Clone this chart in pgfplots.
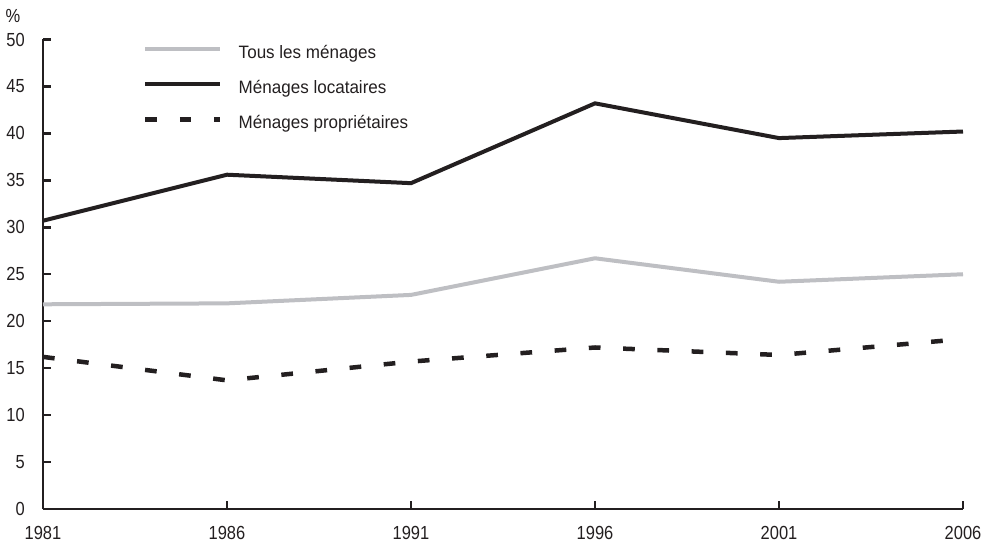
\documentclass[border=0pt]{standalone}
\usepackage{pgfplots}
\pgfplotsset{compat=1.18}
\usepackage{fontspec}
\setmainfont{Liberation Sans}[FakeStretch=0.87]
\newfontfamily\legfont{Liberation Sans}[FakeStretch=0.95]
\definecolor{cgray}{RGB}{190,191,195}
\definecolor{cblack}{RGB}{35,31,32}
\begin{document}
\begin{tikzpicture}
\useasboundingbox (-43bp,-34bp) rectangle (945bp,509bp);
\begin{axis}[
  name=ax,
  scale only axis, width=920bp, height=469.5bp,
  xmin=1981, xmax=2006, ymin=0, ymax=50,
  axis x line*=bottom, axis y line*=left,
  axis line style={cblack, line width=2.5bp},
  xtick={1981,1986,1991,1996,2001,2006},
  xticklabels={1981,1986,1991,1996,2001,2006},
  ytick={0,5,10,15,20,25,30,35,40,45,50},
  yticklabels={0,5,10,15,20,25,30,35,40,45,50},
  tick align=inside, major tick length=8bp,
  tick style={cblack, line width=2.5bp},
  ticklabel style={font=\fontsize{19}{22}\selectfont, text=cblack},
  yticklabel style={anchor=east, inner sep=0pt, xshift=-18bp},
  xticklabel style={anchor=north, inner sep=0pt, yshift=-17.5bp},
  legend cell align=left,
  legend style={at={(0.1055,0.991)}, anchor=north west, draw=none, fill=none,
    font=\legfont\fontsize{18}{21}\selectfont, text=cblack, row sep=18bp,
    nodes={inner sep=0pt, text height=13bp, text depth=4bp}},
  legend image code/.code={\draw[#1] (0bp,5bp) -- (75bp,5bp); \path (91bp,5bp);},
  clip=false,
]
\addplot[cgray, line width=4bp] coordinates {(1981,21.8)(1986,21.9)(1991,22.8)(1996,26.7)(2001,24.2)(2006,25.0)};
\addplot[cblack, line width=4bp] coordinates {(1981,30.7)(1986,35.6)(1991,34.7)(1996,43.2)(2001,39.5)(2006,40.2)};
\addplot[cblack, line width=4.5bp, dash pattern=on 11.7bp off 22.6bp] coordinates {(1981,16.2)(1986,13.7)(1991,15.7)(1996,17.2)(2001,16.4)(2006,18.1)};
\legend{Tous les ménages, Ménages locataires, Ménages propriétaires}
\end{axis}
\node[font=\fontsize{19}{22}\selectfont, text=cblack, inner sep=0pt] at ([xshift=-30bp,yshift=23.5bp]ax.north west) {\%};
\end{tikzpicture}
\end{document}
